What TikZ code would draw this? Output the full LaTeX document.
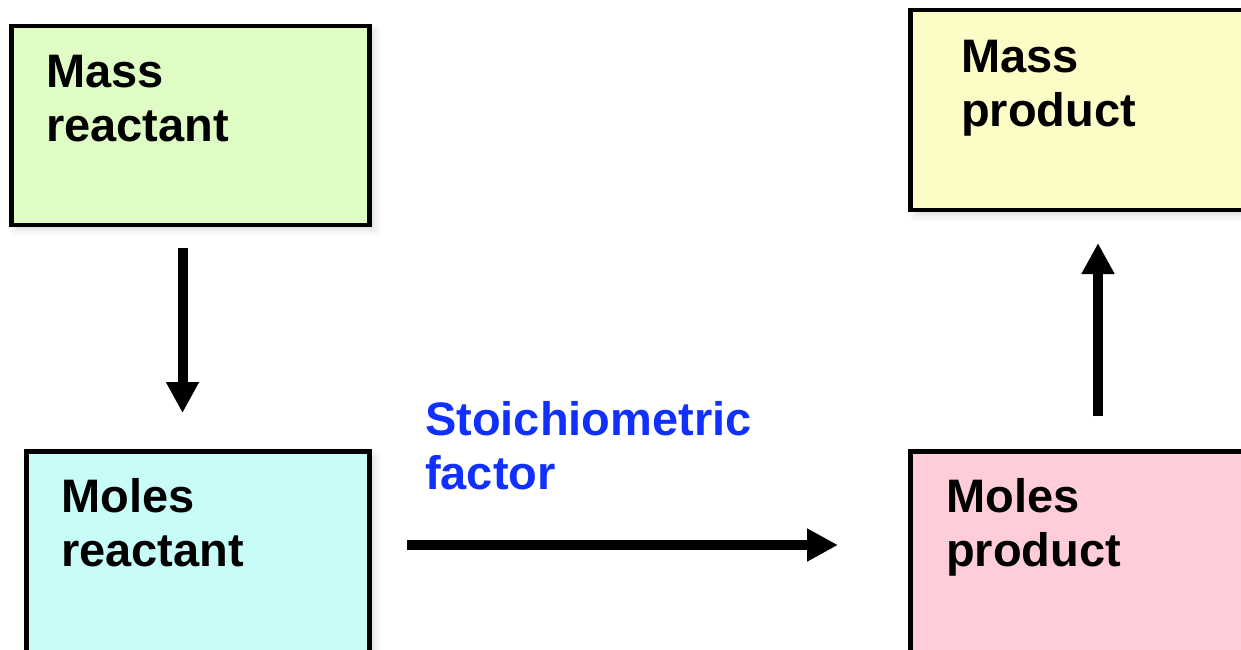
\documentclass[tikz,border=0pt]{standalone}
\usepackage{fontspec}
\setmainfont{Liberation Sans}
\usetikzlibrary{arrows.meta,shadows.blur}
\definecolor{massR}{RGB}{223,252,197}
\definecolor{massP}{RGB}{252,252,198}
\definecolor{molR}{RGB}{200,252,248}
\definecolor{molP}{RGB}{255,205,216}
\definecolor{factorblue}{RGB}{16,48,255}
\tikzset{
  box/.style={draw=black, line width=4.5pt, rectangle, anchor=north west,
    outer sep=0pt, inner sep=0pt,
    blur shadow={shadow xshift=5pt, shadow yshift=-5pt,
      shadow blur radius=7pt, shadow opacity=14}},
  boxtext/.style={anchor=base west, inner sep=0pt, text width=320pt, align=left,
    font=\fontsize{47}{54}\selectfont\bfseries},
  bigarrow/.style={line width=10pt, -{Triangle[width=31pt,length=31pt]}}
}
\begin{document}
\begin{tikzpicture}[x=1pt,y=-1pt]
  \useasboundingbox (0,0) rectangle (1241,649);
  % boxes
  \node[box, fill=massR, minimum width=358pt, minimum height=199pt] (massreac) at (11.5,26) {};
  \node[box, fill=massP, minimum width=400pt, minimum height=200pt] (massprod) at (910.5,10) {};
  \node[box, fill=molR, minimum width=343pt, minimum height=260pt] (molreac) at (26.5,451.5) {};
  \node[box, fill=molP, minimum width=400pt, minimum height=260pt] (molprod) at (910.5,451.5) {};
  % labels
  \node[boxtext] (tmassreac) at (46,87) {Mass\\reactant};
  \node[boxtext] (tmassprod) at (961,72) {Mass\\product};
  \node[boxtext] (tmolreac) at (61,512) {Moles\\reactant};
  \node[boxtext] (tmolprod) at (946,512) {Moles\\product};
  \node[boxtext, text=factorblue] (tfactor) at (425,435) {Stoichiometric\\factor};
  % arrow end points
  \coordinate (d1) at (182.5,248);
  \coordinate (d2) at (182.5,413);
  \coordinate (r1) at (407,545);
  \coordinate (r2) at (838,545);
  \coordinate (u1) at (1098,416);
  \coordinate (u2) at (1098,243);
  \draw[bigarrow] (d1) -- (d2);
  \draw[bigarrow] (r1) -- (r2);
  \draw[bigarrow] (u1) -- (u2);
\end{tikzpicture}
\end{document}
